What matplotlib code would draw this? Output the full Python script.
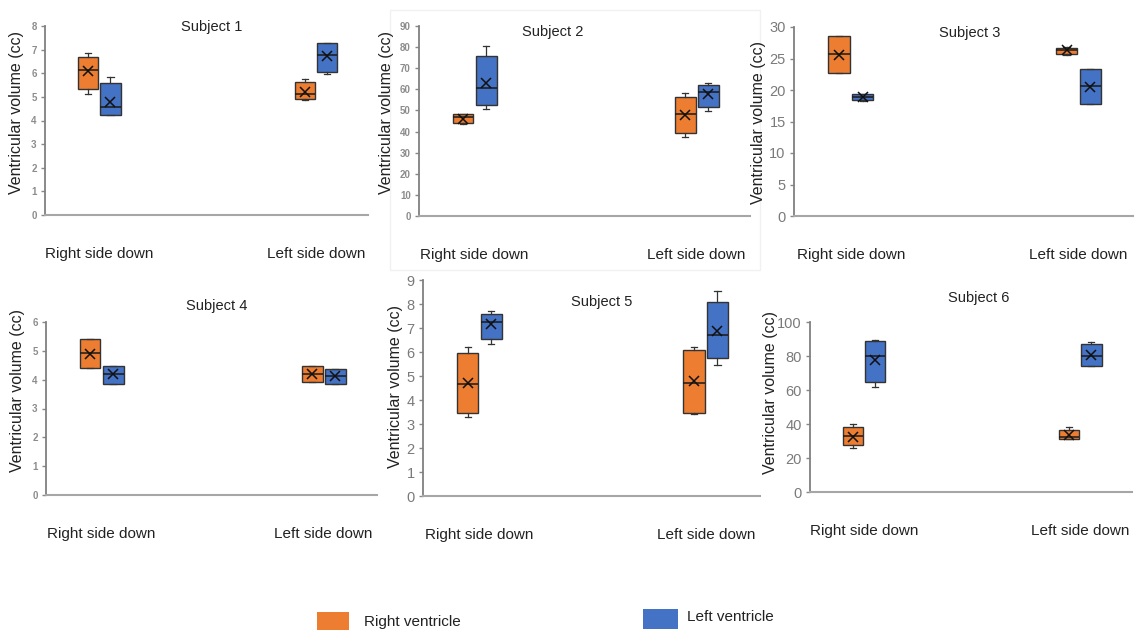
import matplotlib.pyplot as plt
from matplotlib.patches import Rectangle

plt.rcParams['font.family'] = ['Liberation Sans', 'DejaVu Sans']

# box stats per group: [whislo, q1, med, q3, whishi, mean]
categories = ['Right side down', 'Left side down']
subjects = ['Subject 1', 'Subject 2', 'Subject 3', 'Subject 4', 'Subject 5', 'Subject 6']

s1_rv = [[5.14, 5.33, 6.12, 6.68, 6.85, 6.08], [4.88, 4.91, 5.14, 5.63, 5.75, 5.22]]
s1_lv = [[4.22, 4.22, 4.56, 5.59, 5.84, 4.79], [5.98, 6.06, 6.78, 7.27, 7.27, 6.71]]
s2_rv = [[43.6, 44.2, 46.7, 48.3, 48.3, 45.9], [37.6, 39.2, 48.3, 56.5, 58.1, 48.0]]
s2_lv = [[50.7, 52.6, 60.5, 75.8, 80.5, 62.8], [49.7, 51.8, 58.9, 62.1, 63.0, 57.6]]
s3_rv = [[22.7, 22.7, 25.7, 28.5, 28.5, 25.6], [25.6, 25.75, 26.3, 26.7, 26.8, 26.3]]
s3_lv = [[18.3, 18.4, 18.9, 19.35, 19.4, 18.9], [17.8, 17.8, 20.6, 23.3, 23.3, 20.5]]
s4_rv = [[4.40, 4.40, 4.92, 5.42, 5.42, 4.90], [3.93, 3.93, 4.19, 4.46, 4.46, 4.19]]
s4_lv = [[3.86, 3.86, 4.19, 4.49, 4.49, 4.19], [3.85, 3.85, 4.14, 4.36, 4.36, 4.11]]
s5_rv = [[3.28, 3.47, 4.68, 5.96, 6.19, 4.72], [3.42, 3.47, 4.72, 6.08, 6.21, 4.79]]
s5_lv = [[6.32, 6.54, 7.26, 7.60, 7.69, 7.15], [5.46, 5.75, 6.69, 8.10, 8.56, 6.86]]
s6_rv = [[26.1, 27.5, 32.9, 38.2, 39.8, 32.4], [31.0, 31.4, 32.6, 36.7, 38.0, 33.3]]
s6_lv = [[61.8, 64.9, 80.0, 89.0, 89.6, 77.8], [74.1, 74.1, 79.8, 87.3, 88.0, 80.6]]

rv_data = [s1_rv, s2_rv, s3_rv, s4_rv, s5_rv, s6_rv]
lv_data = [s1_lv, s2_lv, s3_lv, s4_lv, s5_lv, s6_lv]
y_max = [8, 90, 30, 6, 9, 100]
y_step = [1, 10, 5, 1, 1, 20]

RV_COLOR = '#ed7d31'
LV_COLOR = '#4472c4'

W, H = 1143, 630
fig = plt.figure(figsize=(W / 100, H / 100), dpi=100)


def fx(x):
    return x / W


def fy(y):
    return 1 - y / H


# panel layout in pixels: left, top, right, bottom of plot area
boxes_px = [(45, 26, 368, 215), (419, 26, 750, 216), (794, 27, 1133, 216),
            (46, 322, 377, 495), (423, 280, 760, 496), (810, 322, 1132, 492)]
title_px = [(212, 27), (553, 32), (970, 33), (217, 306), (602, 302), (979, 298)]
ylabel_px = [(17, 113), (387, 113), (758, 122), (18, 391), (395, 386), (770, 393)]
small_ticks = [True, True, False, True, False, False]

# faint frame around the second panel image
fig.patches.append(Rectangle((fx(390), fy(270)), fx(760) - fx(390), (270 - 10) / H,
                             transform=fig.transFigure, fill=False,
                             edgecolor='#f1f1f1', lw=1))


def to_stats(rows):
    out = []
    for r in rows:
        out.append(dict(whislo=r[0], q1=r[1], med=r[2], q3=r[3], whishi=r[4],
                        mean=r[5], fliers=[]))
    return out


for i in range(6):
    l, t, r, b = boxes_px[i]
    ax = fig.add_axes([fx(l), fy(b), (r - l) / W, (b - t) / H])
    off, w = 0.052, 0.094
    for rows, color, sgn in [(rv_data[i], RV_COLOR, -1), (lv_data[i], LV_COLOR, 1)]:
        bp = ax.bxp(to_stats(rows), positions=[0 + sgn * off, 1 + sgn * off],
                    widths=w, capwidths=w * 0.3, patch_artist=True, showmeans=True,
                    boxprops=dict(facecolor=color, edgecolor='#333333', lw=1),
                    medianprops=dict(color='#1a1a1a', lw=1.1),
                    whiskerprops=dict(color='#333333', lw=0.9),
                    capprops=dict(color='#333333', lw=0.9),
                    meanprops=dict(marker='x', markeredgecolor='#111111',
                                   markersize=7, markeredgewidth=1.1))
    ax.set_xlim(-0.25, 1.24)
    ax.set_ylim(0, y_max[i])
    ax.set_yticks(range(0, y_max[i] + 1, y_step[i]))
    ax.set_xticks([0, 1], categories)
    ax.tick_params(axis='x', length=0, pad=23, labelsize=11, labelcolor='#222222')
    if small_ticks[i]:
        ax.tick_params(axis='y', length=3, width=1, color='#888888', labelsize=7,
                       labelcolor='#8c8c8c', pad=3)
        for lab in ax.get_yticklabels():
            lab.set_fontweight('bold')
    else:
        ax.tick_params(axis='y', length=3, width=1, color='#888888', labelsize=10.5,
                       labelcolor='#7a7a7a', pad=3)
    for s in ['top', 'right']:
        ax.spines[s].set_visible(False)
    ax.spines['left'].set_color('#808080')
    ax.spines['left'].set_linewidth(1.3)
    ax.spines['bottom'].set_color('#a6a6a6')
    ax.spines['bottom'].set_linewidth(1.5)
    ax.patch.set_alpha(0)

    tx, ty = title_px[i]
    fig.text(fx(tx), fy(ty), subjects[i], ha='center', va='center', fontsize=10.5,
             color='#222222')
    lx, ly = ylabel_px[i]
    fig.text(fx(lx), fy(ly), 'Ventricular volume (cc)', rotation=90, ha='center',
             va='center', fontsize=11.5, color='#222222')

# legend
fig.patches.append(Rectangle((fx(317), fy(631)), fx(349) - fx(317), 19 / H,
                             transform=fig.transFigure, facecolor=RV_COLOR,
                             edgecolor='none'))
fig.patches.append(Rectangle((fx(643), fy(629)), fx(678) - fx(643), 20 / H,
                             transform=fig.transFigure, facecolor=LV_COLOR,
                             edgecolor='none'))
fig.text(fx(364), fy(622), 'Right ventricle', ha='left', va='center', fontsize=11,
         color='#222222')
fig.text(fx(687), fy(617), 'Left ventricle', ha='left', va='center', fontsize=11,
         color='#222222')

fig.savefig('out.png', dpi=100, facecolor='white')
